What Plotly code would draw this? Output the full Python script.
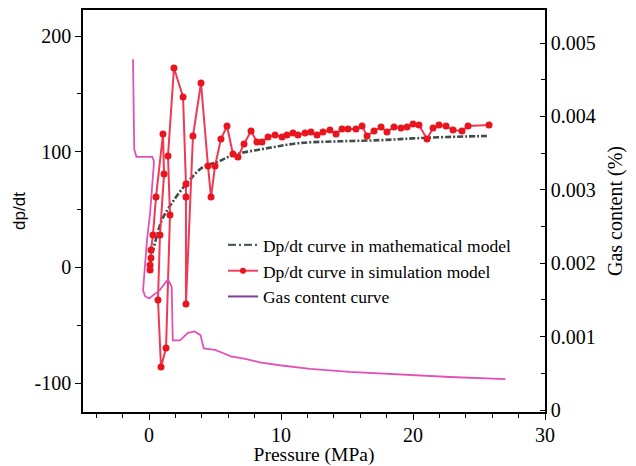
import plotly.graph_objects as go

# ---- data ----
math_x = [0.08, 0.23, 0.45, 0.98, 1.74, 2.88, 4.09, 5.15, 6.36, 8.94, 11.44, 14.5, 17.5, 20.0, 22.6, 25.6]
math_y = [2.0, 10.7, 21.0, 41.0, 55.7, 73.0, 86.8, 91.0, 97.0, 103.0, 107.5, 109.0, 110.0, 111.5, 112.7, 113.6]

sim_x = [0.08, 0.08, 0.15, 0.15, 0.30, 0.53, 1.06,
         1.14, 0.83, 0.68, 0.91,
         1.29, 1.59, 1.44, 1.89,
         2.58, 2.80, 2.80, 2.80,
         3.33, 3.94, 4.47, 4.70, 5.00, 5.45, 5.91, 6.36, 6.74, 7.20, 7.73, 8.18, 8.56,
         9.02, 9.55, 10.08, 10.45, 10.91, 11.29, 11.82, 12.27, 12.73, 13.18, 13.71, 14.17,
         14.62, 15.08, 15.68, 16.14, 16.52, 17.05, 17.58, 18.03, 18.56, 19.09, 19.55, 20.0,
         20.45, 21.06, 21.52, 21.97, 22.5, 23.03, 23.71, 24.17, 25.76]
sim_y = [-2.2, 2.1, 8.1, 15.0, 28.0, 60.8, 115.3,
         80.7, 28.0, -28.2, -86.1,
         -69.7, 45.3, 96.3, 172.3,
         147.3, 72.1, 60.8, -31.6,
         113.6, 159.4, 87.6, 60.8, 87.6, 111.0, 122.2, 98.0, 95.4, 106.7, 117.9, 108.4, 108.4,
         112.7, 114.4, 112.7, 114.4, 116.2, 114.4, 116.2, 117.0, 114.4, 117.0, 118.8, 115.3,
         119.6, 119.6, 119.6, 122.2, 113.6, 117.9, 121.3, 117.0, 121.3, 120.5, 121.3, 123.9,
         123.1, 111.0, 120.5, 123.1, 122.2, 118.8, 117.9, 122.2, 123.1]

gas_x = [-1.21, -1.18, -1.12, -0.95, 0.25, 0.38, 0.08, -0.15, -0.38, -0.45, -0.3, 0.0,
         0.8, 1.44, 1.72, 1.80, 2.35, 2.95, 3.45, 3.9, 4.15, 5.0, 5.55, 6.2, 7.2, 8.4,
         9.9, 12.2, 15.2, 19.0, 22.8, 27.0]
gas_y = [0.00478, 0.00380, 0.00355, 0.00345, 0.00345, 0.00338, 0.00268, 0.00232, 0.00184,
         0.00163, 0.00155, 0.00152, 0.00163, 0.00178, 0.00168, 0.00095, 0.00095, 0.00105,
         0.00107, 0.00102, 0.00084, 0.00082, 0.00078, 0.00073, 0.00070, 0.00065, 0.00061,
         0.00056, 0.00052, 0.00048, 0.00045, 0.00042]

names = ["Dp/dt curve in mathematical model", "Dp/dt curve in simulation model", "Gas content curve"]
left_ticks = [-100, 0, 100, 200]
left_text = ["-100", "0", "100", "200"]
right_ticks = [0, 0.001, 0.002, 0.003, 0.004, 0.005]
right_text = ["0", "0.001", "0.002", "0.003", "0.004", "0.005"]
x_ticks = [0, 10, 20, 30]

SERIF = "Liberation Serif"
SANS = "Liberation Sans"

fig = go.Figure()

fig.add_trace(go.Scatter(x=gas_x, y=gas_y, yaxis="y2", mode="lines",
                         line=dict(color="#e052b4", width=1.8), showlegend=False))
fig.add_trace(go.Scatter(x=math_x, y=math_y, mode="lines", line_shape="spline",
                         line=dict(color="#3f4c49", width=2.6, dash="6px,2px,2px,2px"), showlegend=False))
fig.add_trace(go.Scatter(x=sim_x, y=sim_y, mode="lines+markers",
                         line=dict(color="#ee3a55", width=2),
                         marker=dict(color="#e8141e", size=7), showlegend=False))

# legend entries
fig.add_trace(go.Scatter(x=[None], y=[None], mode="lines", name=names[0],
                         line=dict(color="#4f5f5c", width=2.2, dash="8px,3px,2px,3px")))
fig.add_trace(go.Scatter(x=[None], y=[None], mode="lines+markers", name=names[1],
                         line=dict(color="#f04060", width=2), marker=dict(color="#e8141e", size=6)))
fig.add_trace(go.Scatter(x=[None], y=[None], mode="lines", name=names[2],
                         line=dict(color="#7e3f9e", width=2)))


def axis_style():
    return dict(showline=True, linecolor="black", linewidth=1.5,
                tickcolor="black", tickwidth=1.3, showgrid=False, zeroline=False,
                automargin=False,
                tickfont=dict(family=SERIF, size=20, color="black"))


fig.update_layout(
    template="none",
    width=636, height=466,
    font=dict(family=SERIF, size=18, color="black"),
    margin=dict(l=83, r=91, t=10, b=54),
    paper_bgcolor="white", plot_bgcolor="white",
    xaxis=dict(range=[-5, 30], tickvals=x_ticks, mirror=True, ticks="outside", ticklen=6,
               ticklabelstandoff=-2,
               minor=dict(dtick=2, ticks="outside", ticklen=4, tickcolor="black"),
               title=dict(text="Pressure (MPa)", font=dict(family=SERIF, size=19.5, color="black"), standoff=5),
               **axis_style()),
    yaxis=dict(range=[-125, 222.5], tickvals=left_ticks, ticktext=left_text, ticks="outside", ticklen=6,
               minor=dict(dtick=50, ticks="outside", ticklen=4, tickcolor="black"),
               title=dict(text="dp/dt", font=dict(family=SANS, size=17, color="black"), standoff=5),
               **axis_style()),
    yaxis2=dict(range=[-0.000027, 0.00545], overlaying="y", side="right", anchor="x",
                tickvals=right_ticks, ticktext=right_text, ticks="inside", ticklen=5,
                minor=dict(dtick=0.0005, ticks="inside", ticklen=4, tickcolor="black"),
                title=dict(text="Gas content (%)", font=dict(family=SERIF, size=20, color="black"), standoff=13),
                **axis_style()),
    legend=dict(x=0.303, y=0.46, xanchor="left", yanchor="top", bgcolor="rgba(0,0,0,0)",
                font=dict(family=SERIF, size=17.5, color="black"), tracegroupgap=0),
)

fig.write_html("out.html", config={"displayModeBar": False},
               post_script="document.body.style.margin='0';")
